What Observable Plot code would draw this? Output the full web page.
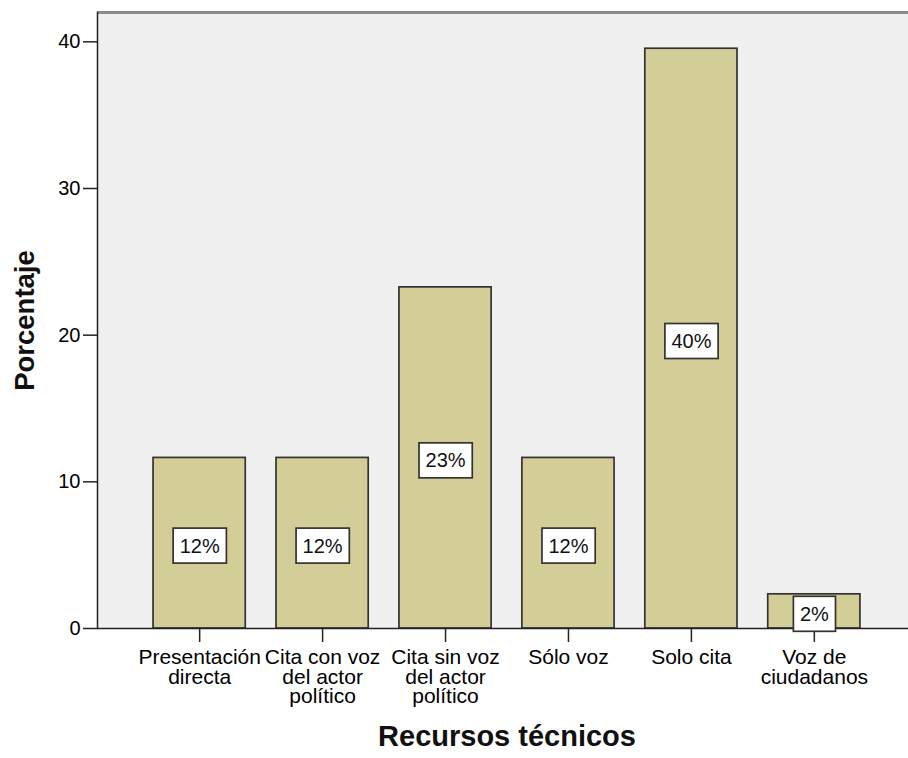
<!DOCTYPE html>
<html>
<head>
<meta charset="utf-8">
<script src="https://cdn.jsdelivr.net/npm/d3@7"></script>
<script src="https://cdn.jsdelivr.net/npm/@observablehq/plot@0.6"></script>
<style>
  body { margin: 0; background: white; }
</style>
</head>
<body>
<div id="chart"></div>
<script>
const categories = ["Presentación\ndirecta", "Cita con voz\ndel actor\npolítico", "Cita sin voz\ndel actor\npolítico", "Sólo voz", "Solo cita", "Voz de\nciudadanos"];
const percentages = [11.63, 11.63, 23.26, 11.63, 39.53, 2.33];
const barLabels = ["12%", "12%", "23%", "12%", "40%", "2%"];
const yTicks = [0, 10, 20, 30, 40];
const xTitle = "Recursos técnicos";
const yTitle = "Porcentaje";

const data = categories.map((c, i) => ({cat: c, value: percentages[i], label: barLabels[i]}));

const font = "'Liberation Sans', Arial, sans-serif";

const chart = Plot.plot({
  width: 908,
  height: 758,
  marginLeft: 97,
  marginRight: 0,
  marginTop: 12,
  marginBottom: 130,
  style: {fontFamily: font, background: "white", overflow: "visible", color: "black"},
  x: {domain: categories, range: [97, 916], paddingInner: 0.25, paddingOuter: 0.456, align: 0.5, round: false, label: null},
  y: {domain: [0, 42], label: null},
  marks: [
    Plot.frame({fill: "#f0f0f0", stroke: null}),
    Plot.ruleY([42], {stroke: "#8c8c8c", strokeWidth: 3}),
    Plot.barY(data, {x: "cat", y: "value", fill: "#d3ce97", stroke: "#333333", strokeWidth: 1.7}),
    Plot.ruleY([0], {stroke: "#222", strokeWidth: 1.5}),
    Plot.frame({anchor: "left", stroke: "#222", strokeWidth: 1.5}),
    Plot.axisX({tickSize: 14, tickPadding: 8, fontSize: 21, lineHeight: 0.93, stroke: "#222", strokeWidth: 1.5, textOverflow: null, label: null}),
    Plot.axisY({ticks: yTicks, tickSize: 14, tickPadding: 3, fontSize: 20, stroke: "#222", strokeWidth: 1.5, label: null}),
    Plot.text(data, {x: "cat", y: d => d.value / 2, text: "label", fontSize: 20, fill: "#111", dy: 3, className: "barlabel"}),
    Plot.text([yTitle], {frameAnchor: "left", dx: -72, rotate: -90, textAnchor: "middle", fontSize: 27.5, fontWeight: "bold", fill: "#111"}),
    Plot.text([xTitle], {frameAnchor: "bottom", dx: 4, dy: 117, textAnchor: "middle", fontSize: 29, fontWeight: "bold", fill: "#111"})
  ]
});

document.getElementById("chart").append(chart);

// white boxes behind the bar labels, sized to the text
let texts = chart.querySelectorAll(".barlabel text");
if (!texts.length) texts = chart.querySelectorAll("g.barlabel text, text.barlabel");
texts.forEach(t => {
  const b = t.getBBox();
  const r = document.createElementNS("http://www.w3.org/2000/svg", "rect");
  r.setAttribute("x", b.x - 6.5);
  r.setAttribute("y", b.y - 6.5);
  r.setAttribute("width", b.width + 13);
  r.setAttribute("height", b.height + 13);
  r.setAttribute("fill", "white");
  r.setAttribute("stroke", "#333");
  r.setAttribute("stroke-width", "1.7");
  const tr = t.getAttribute("transform");
  if (tr) r.setAttribute("transform", tr);
  t.parentNode.insertBefore(r, t);
});
</script>
</body>
</html>
